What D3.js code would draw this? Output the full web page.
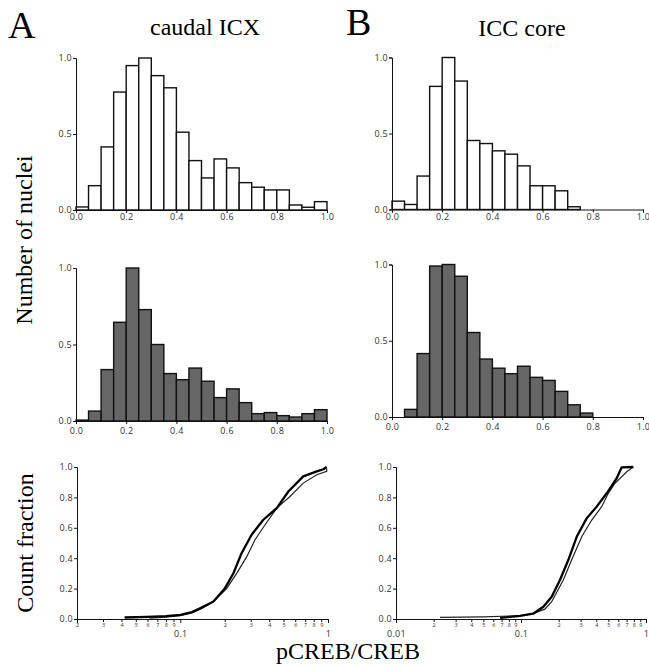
<!DOCTYPE html>
<html><head><meta charset="utf-8">
<script src="https://cdn.jsdelivr.net/npm/d3@7"></script>
<style>
html,body{margin:0;padding:0;background:#fff;}
svg{display:block;}
</style></head>
<body>
<svg id="c" width="649" height="667"></svg>
<script>
// ---------- DATA ----------
const binEdges = [0,0.05,0.1,0.15,0.2,0.25,0.3,0.35,0.4,0.45,0.5,0.55,0.6,0.65,0.7,0.75,0.8,0.85,0.9,0.95,1.0];
const caudalTop = [0.02,0.16,0.415,0.776,0.95,1.0,0.884,0.804,0.512,0.325,0.211,0.336,0.277,0.18,0.15,0.132,0.132,0.033,0.018,0.055];
const caudalMid = [0.006,0.065,0.336,0.645,1.0,0.728,0.5,0.31,0.27,0.346,0.26,0.153,0.21,0.12,0.048,0.055,0.035,0.026,0.048,0.074];
const iccTop = [0.055,0.033,0.22,0.81,1.0,0.845,0.454,0.434,0.386,0.364,0.287,0.156,0.156,0.123,0.018,0,0,0,0,0];
const iccMid = [0,0.05,0.416,0.99,1.0,0.923,0.554,0.38,0.32,0.284,0.333,0.26,0.24,0.168,0.08,0.026,0,0,0,0];

const histXTicks = [0,0.2,0.4,0.6,0.8,1.0];
const histXLabels = ["0.0","0.2","0.4","0.6","0.8","1.0"];
const histYTicks = [0,0.5,1.0];
const histYLabels = ["0.0","0.5","1.0"];

const cdfYTicks = [0,0.2,0.4,0.6,0.8,1.0];
const cdfYLabels = ["0.0","0.2","0.4","0.6","0.8","1.0"];
const minorTicksA = [0.02,0.03,0.04,0.05,0.06,0.07,0.08,0.09,0.2,0.3,0.4,0.5,0.6,0.7,0.8,0.9];
const minorTicksB = [0.02,0.03,0.04,0.05,0.06,0.07,0.08,0.09,0.2,0.3,0.4,0.5,0.6,0.7,0.8,0.9];
const minorLabels = ["2","3","4","5","6","7","8","9","2","3","4","5","6","7","8","9"];
const majorTicksA = [0.1,1];
const majorLabelsA = ["0.1","1"];
const majorTicksB = [0.01,0.1,1];
const majorLabelsB = ["0.01","0.1","1"];

// CDF curves: [pCREB/CREB, count fraction]
const cdfA_thick = [[0.042,0.01],[0.06,0.014],[0.08,0.019],[0.1,0.027],[0.12,0.045],[0.136,0.07],[0.167,0.114],[0.2,0.2],[0.229,0.301],[0.26,0.433],[0.304,0.554],[0.365,0.653],[0.45,0.73],[0.539,0.839],[0.68,0.938],[0.84,0.971],[0.93,0.985],[0.98,1.0]];
const cdfA_thin = [[0.062,0.006],[0.08,0.012],[0.1,0.022],[0.12,0.04],[0.14,0.07],[0.17,0.12],[0.206,0.2],[0.241,0.30],[0.282,0.41],[0.32,0.52],[0.375,0.62],[0.45,0.73],[0.553,0.806],[0.68,0.894],[0.84,0.949],[0.98,0.971],[0.98,0.99]];
const cdfB_thick = [[0.068,0.008],[0.098,0.02],[0.125,0.035],[0.151,0.081],[0.176,0.147],[0.205,0.257],[0.239,0.388],[0.279,0.541],[0.335,0.662],[0.403,0.739],[0.485,0.827],[0.583,0.926],[0.639,0.998],[0.791,1.0]];
const cdfB_thin = [[0.0225,0.011],[0.05,0.014],[0.1,0.022],[0.125,0.035],[0.155,0.065],[0.176,0.114],[0.218,0.257],[0.254,0.388],[0.306,0.541],[0.368,0.651],[0.442,0.739],[0.499,0.827],[0.565,0.893],[0.701,0.969],[0.791,1.0]];

// ---------- DRAW ----------
const svg = d3.select("#c");
const serif = "'Liberation Serif','Times New Roman',serif";
const sans = "'Open Sans','Liberation Sans',sans-serif";
const tickColor = "#333";

function styleAxis(g, fs){
  g.select(".domain").attr("stroke","#111").attr("stroke-width",1);
  g.selectAll(".tick line").attr("stroke","#111");
  g.selectAll(".tick text").attr("fill",tickColor).attr("font-family",sans).attr("font-size",fs).style("letter-spacing","0.3px");
}

function histPanel(vals, x0, x1, yb, yt, fill, labelPad){
  const x = d3.scaleLinear().domain([0,1]).range([x0,x1]);
  const y = d3.scaleLinear().domain([0,1]).range([yb,yt]);
  const g = svg.append("g");
  g.selectAll("rect").data(vals).join("rect")
    .attr("x",(d,i)=>x(binEdges[i]))
    .attr("width",(d,i)=>x(binEdges[i+1])-x(binEdges[i]))
    .attr("y",d=>y(d))
    .attr("height",d=>y(0)-y(d))
    .attr("fill",fill).attr("stroke","#111").attr("stroke-width",1.4);
  const ax = g.append("g").attr("transform",`translate(0,${yb})`)
    .call(d3.axisBottom(x).tickValues(histXTicks).tickFormat((d,i)=>histXLabels[i]).tickSizeOuter(0).tickSize(3).tickPadding(labelPad));
  styleAxis(ax, 9);
  const ay = g.append("g").attr("transform",`translate(${x0},0)`)
    .call(d3.axisLeft(y).tickValues(histYTicks).tickFormat((d,i)=>histYLabels[i]).tickSizeOuter(0).tickSize(3).tickPadding(1));
  styleAxis(ay, 9);
}

histPanel(caudalTop, 76, 327, 210, 58, "#fff", 1);
histPanel(caudalMid, 76, 327, 421, 268, "#666", 4);
histPanel(iccTop, 392, 643, 209.5, 57.5, "#fff", 1);
histPanel(iccMid, 392, 643, 417, 264.5, "#666", 4);

function cdfPanel(thick, thin, dom, x0, x1, minorT, majorT, majorL){
  const x = d3.scaleLog().domain(dom).range([x0,x1]);
  const y = d3.scaleLinear().domain([0,1]).range([619,467]);
  const g = svg.append("g");
  const line = d3.line().x(d=>x(d[0])).y(d=>y(d[1])).curve(d3.curveLinear);
  g.append("path").datum(thin).attr("d",line).attr("fill","none").attr("stroke","#222").attr("stroke-width",1.2);
  g.append("path").datum(thick).attr("d",line).attr("fill","none").attr("stroke","#000").attr("stroke-width",2.3).attr("stroke-linejoin","round");
  const axMin = g.append("g").attr("transform","translate(0,619)")
    .call(d3.axisBottom(x).tickValues(minorT).tickFormat((d,i)=>minorLabels[i]).tickSizeOuter(0).tickSize(3).tickPadding(1));
  styleAxis(axMin, 5.5);
  axMin.selectAll(".tick text").style("letter-spacing","0px");
  const axMaj = g.append("g").attr("transform","translate(0,619)")
    .call(d3.axisBottom(x).tickValues(majorT).tickFormat((d,i)=>majorL[i]).tickSizeOuter(0).tickSize(4).tickPadding(7.5));
  styleAxis(axMaj, 9);
  const ay = g.append("g").attr("transform",`translate(${x0},0)`)
    .call(d3.axisLeft(y).tickValues(cdfYTicks).tickFormat((d,i)=>cdfYLabels[i]).tickSizeOuter(0).tickSize(3).tickPadding(1));
  styleAxis(ay, 9);
}

cdfPanel(cdfA_thick, cdfA_thin, [0.02,1], 77, 328, minorTicksA, majorTicksA, majorLabelsA);
cdfPanel(cdfB_thick, cdfB_thin, [0.01,1], 396, 646, minorTicksB, majorTicksB, majorLabelsB);

// ---------- TEXT ----------
function txt(s, x, y, size, anchor, rot){
  const t = svg.append("text").text(s).attr("font-family",serif).attr("font-size",size).attr("fill","#000").attr("text-anchor",anchor||"start");
  if(rot){ t.attr("transform",`translate(${x},${y}) rotate(${rot})`); }
  else { t.attr("x",x).attr("y",y); }
}
txt("A", 8, 38, 38);
txt("caudal ICX", 205, 35, 24, "middle");
txt("B", 346, 35, 38);
txt("ICC core", 522, 36, 24, "middle");
txt("Number of nuclei", 32, 240, 24, "middle", -90);
txt("Count fraction", 33, 543, 24, "middle", -90);
txt("pCREB/CREB", 348, 659, 24, "middle");
</script>
</body></html>
